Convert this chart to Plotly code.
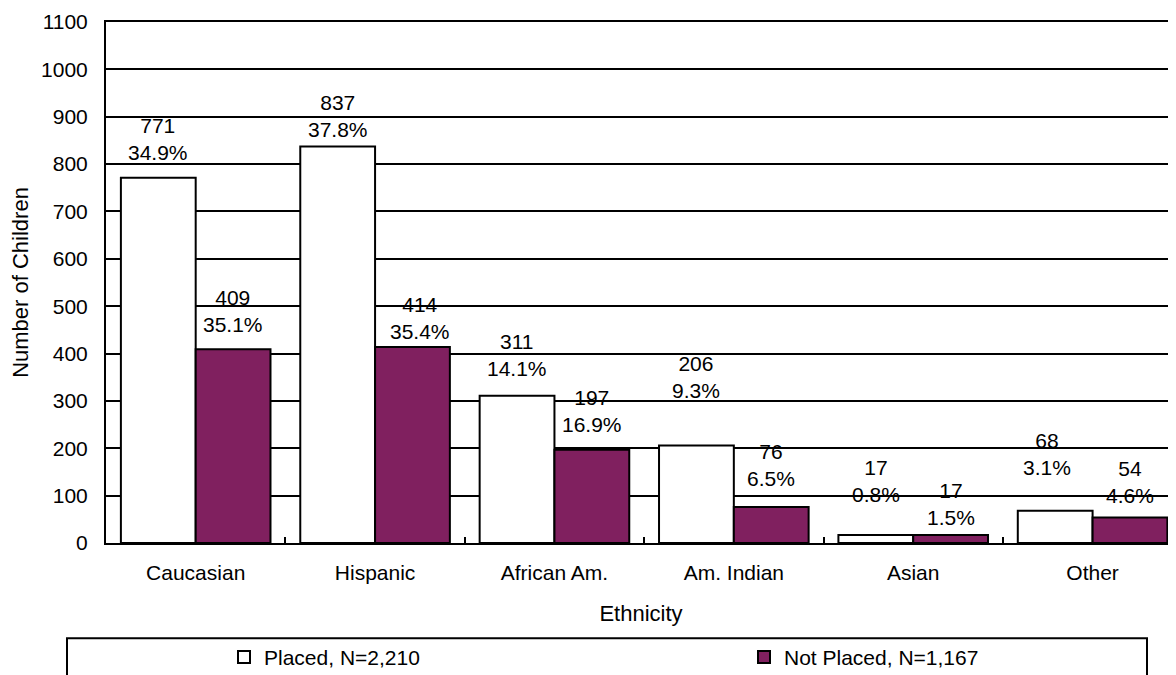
import plotly.graph_objects as go

# data
ethnicity = ['Caucasian', 'Hispanic', 'African Am.', 'Am. Indian', 'Asian', 'Other']
placed = [771, 837, 311, 206, 17, 68]
placed_pct = ['34.9%', '37.8%', '14.1%', '9.3%', '0.8%', '3.1%']
not_placed = [409, 414, 197, 76, 17, 54]
not_placed_pct = ['35.1%', '35.4%', '16.9%', '6.5%', '1.5%', '4.6%']
y_ticks = list(range(0, 1101, 100))

# hand placed label nudges (px), like the manual label positions in the original
placed_lift = [39, 31, 41, 68, 54, 57]
not_placed_lift = [38, 29, 39, 42, 31, 35]
placed_dx = [0, 0, 0, 0, 0, -8]
not_placed_dx = [0, 8, 0, 0, 0, 0]

FONT = 'Arial, Liberation Sans, sans-serif'
PLUM = '#80205F'
BARGAP = 0.166
FS = 21

# the page body has an 8px margin, so the figure is drawn 8px in
OFF = 8
W, H = 1176 - OFF, 675 - OFF
# plot area in page px
L, R, T, B = 106, 1176, 21.7, 543.5
PW, PH = R - L, B - T


def px_x(p):
    return (p - L) / PW


def px_y(p):
    return (B - p) / PH


fig = go.Figure()

fig.add_trace(go.Bar(
    x=ethnicity, y=placed, name='Placed, N=2,210', legend='legend',
    marker=dict(color='white', line=dict(color='black', width=2)),
))
fig.add_trace(go.Bar(
    x=ethnicity, y=not_placed, name='Not Placed, N=1,167', legend='legend2',
    marker=dict(color=PLUM, line=dict(color='black', width=2)),
))

# two-line value labels above each bar
half = (1 - BARGAP) / 4
for i, cat in enumerate(ethnicity):
    for vals, pcts, lift, dx, side in [
        (placed, placed_pct, placed_lift, placed_dx, -1),
        (not_placed, not_placed_pct, not_placed_lift, not_placed_dx, 1),
    ]:
        fig.add_annotation(
            x=i + side * half, y=vals[i],
            text=f'{vals[i]}<br>{pcts[i]}',
            showarrow=False, yanchor='middle', xanchor='center',
            yshift=lift[i], xshift=dx[i],
            font=dict(size=FS, color='black', family=FONT),
        )

# legend frame (bottom runs off the page like in the original)
fig.add_shape(
    type='rect', xref='paper', yref='paper',
    x0=px_x(67), x1=px_x(1147), y0=px_y(639), y1=px_y(700),
    line=dict(color='black', width=2), fillcolor='rgba(0,0,0,0)',
)

leg_common = dict(
    orientation='h', xanchor='left', yanchor='middle',
    font=dict(size=FS, family=FONT),
    bgcolor='rgba(0,0,0,0)', borderwidth=0,
)

fig.update_layout(
    width=W, height=H,
    margin=dict(l=L - OFF, r=0, t=T - OFF, b=H - (B - OFF), autoexpand=False),
    paper_bgcolor='white', plot_bgcolor='white',
    font=dict(family=FONT, size=FS, color='black'),
    barmode='group', bargap=BARGAP, bargroupgap=0,
    showlegend=True,
    legend=dict(x=px_x(224), y=px_y(658), **leg_common),
    legend2=dict(x=px_x(744), y=px_y(658), **leg_common),
    xaxis=dict(
        title=dict(text='Ethnicity', standoff=22, font=dict(size=22)),
        range=[-0.5, 5.465],
        showline=True, linecolor='black', linewidth=2, mirror=True,
        ticks='inside', tickson='boundaries', ticklen=6, tickwidth=2, tickcolor='black',
        ticklabelstandoff=10, automargin=False,
    ),
    yaxis=dict(
        title=dict(text='Number of Children', standoff=8, font=dict(size=22)),
        range=[0, 1100], tickvals=y_ticks,
        showline=True, linecolor='black', linewidth=2,
        showgrid=True, gridcolor='black', gridwidth=2,
        zeroline=False, ticks='', ticklabelstandoff=12, automargin=False,
    ),
)

fig.write_html('out.html')
